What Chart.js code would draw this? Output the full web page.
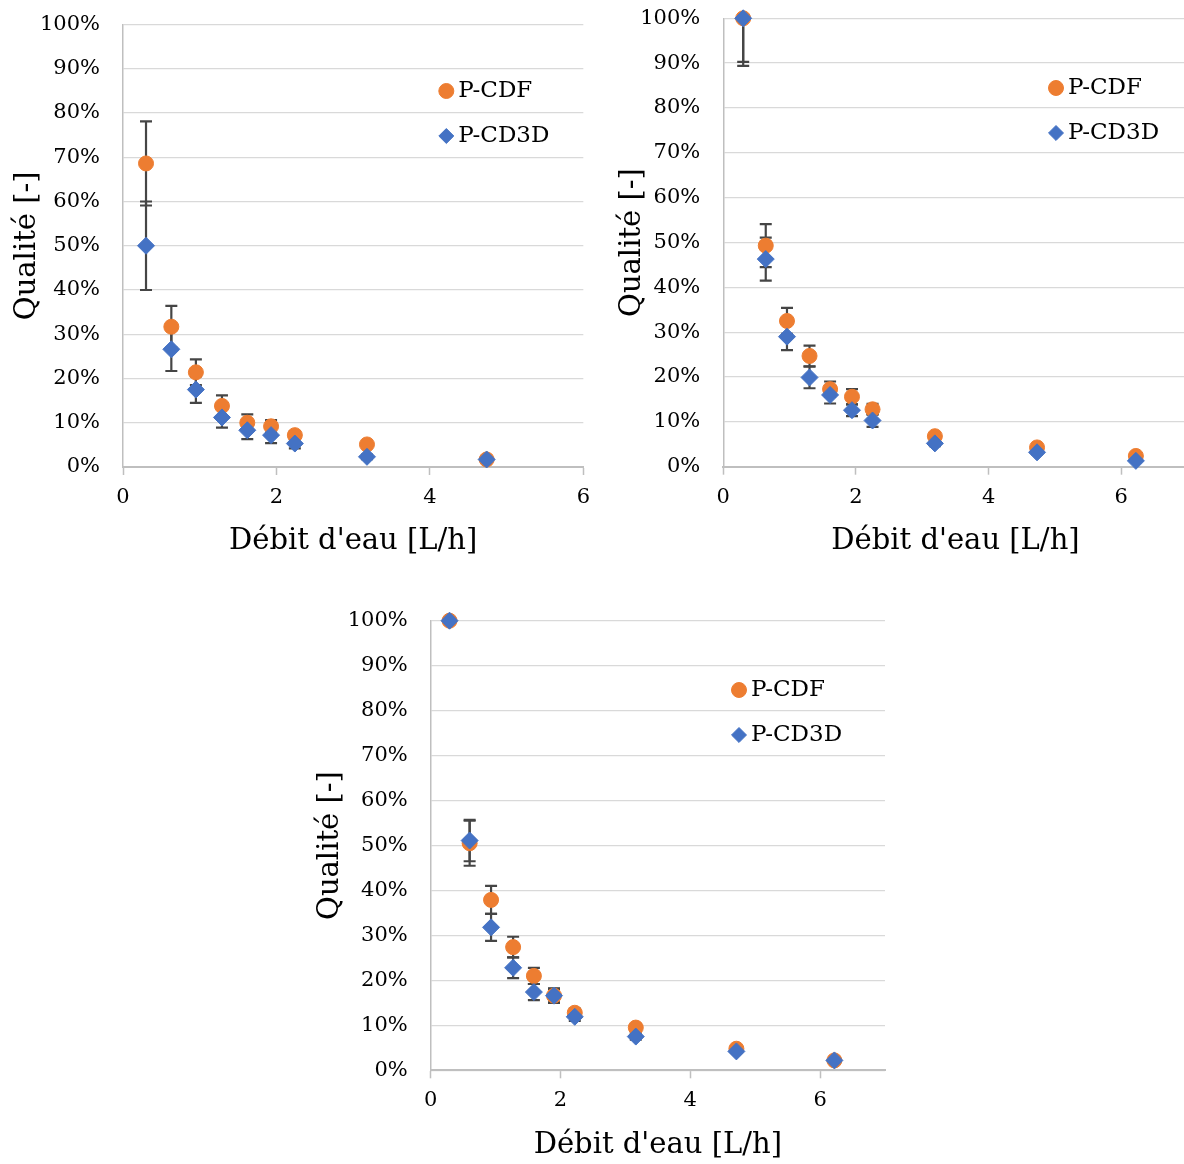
<!DOCTYPE html>
<html>
<head>
<meta charset="utf-8">
<script src="https://cdn.jsdelivr.net/npm/chart.js@4.4.0/dist/chart.umd.min.js"></script>
<style>
    html, body { margin: 0; padding: 0; background: #fff; width: 1184px; height: 1164px; overflow: hidden; }
    body { position: relative; }
    canvas { position: absolute; }
    #c1 { left: 0; top: 0; }
    #c2 { left: 600px; top: 0; }
    #c3 { left: 300px; top: 600px; }
</style>
</head>
<body>
<canvas id="c1" width="600" height="580"></canvas>
<canvas id="c2" width="600" height="580"></canvas>
<canvas id="c3" width="600" height="564"></canvas>
<script>
// graphe 1 (haut gauche)
const debit1 = [0.30, 0.63, 0.95, 1.29, 1.62, 1.93, 2.24, 3.18, 4.74];
const cdf1 = [68.6, 31.7, 21.4, 13.8, 10.0, 9.2, 7.2, 5.1, 1.7];
const cdfErr1 = [9.5, 4.7, 2.9, 2.4, 1.9, 1.4, 0.9, 0.6, 0.3];
const cd3d1 = [50.0, 26.6, 17.5, 11.2, 8.3, 7.2, 5.3, 2.3, 1.7];
const cd3dErr1 = [10.0, 4.9, 3.0, 2.3, 2.0, 1.8, 1.1, 0.5, 0.3];

// graphe 2 (haut droite)
const debit2 = [0.30, 0.64, 0.96, 1.30, 1.61, 1.94, 2.25, 3.19, 4.73, 6.22];
const cdf2 = [100, 49.3, 32.5, 24.7, 17.3, 15.6, 12.8, 6.8, 4.3, 2.4];
const cdfErr2 = [9.7, 4.8, 2.9, 2.3, 1.7, 1.7, 1.2, 0.6, 0.4, 0.3];
const cd3d2 = [100, 46.3, 29.0, 19.9, 16.0, 12.6, 10.3, 5.2, 3.2, 1.3];
const cd3dErr2 = [10.6, 4.8, 3.0, 2.4, 1.9, 1.3, 1.4, 0.6, 0.4, 0.3];

// graphe 3 (bas)
const debit3 = [0.29, 0.60, 0.93, 1.27, 1.59, 1.90, 2.22, 3.16, 4.71, 6.22];
const cdf3 = [100, 50.5, 37.9, 27.4, 21.0, 16.6, 12.8, 9.5, 4.8, 2.2];
const cdfErr3 = [0, 5.0, 3.1, 2.3, 1.8, 1.6, 0.9, 0.7, 0.3, 0.2];
const cd3d3 = [100, 51.1, 31.8, 22.8, 17.4, 16.6, 11.9, 7.5, 4.2, 2.2];
const cd3dErr3 = [0, 4.6, 3.0, 2.3, 1.8, 1.5, 0.9, 0.7, 0.3, 0.2];

const seriesNames = ["P-CDF", "P-CD3D"];
const xTitle = "Débit d'eau [L/h]";
const yTitle = "Qualité [-]";

const ORANGE = "#ED7D31";
const BLUE = "#4472C4";
const FONT = "'DejaVu Serif', 'Liberation Serif', serif";

// barres d'erreur (dessinées sous les points)
const errorBars = {
    id: "errorBars",
    beforeDatasetsDraw(chart) {
        const { ctx, chartArea: a, scales: { x, y } } = chart;
        ctx.save();
        ctx.beginPath();
        ctx.rect(a.left, a.top, a.width, a.height);
        ctx.clip();
        ctx.strokeStyle = "#454545";
        ctx.lineWidth = 2.2;
        chart.data.datasets.forEach(ds => {
            ds.data.forEach((p, i) => {
                const e = ds.errors[i];
                if (!e) return;
                const px = x.getPixelForValue(p.x);
                const top = y.getPixelForValue(p.y + e);
                const bot = y.getPixelForValue(p.y - e);
                ctx.beginPath();
                ctx.moveTo(px, top); ctx.lineTo(px, bot);
                ctx.moveTo(px - 6, top); ctx.lineTo(px + 6, top);
                ctx.moveTo(px - 6, bot); ctx.lineTo(px + 6, bot);
                ctx.stroke();
            });
        });
        ctx.restore();
    }
};

// légende placée dans la zone du graphe, en haut à droite
const legendShift = {
    id: "legendShift",
    afterLayout(chart, args, opts) {
        const lg = chart.legend, a = chart.chartArea;
        const w = lg.width, h = lg.height;
        lg.left = a.right - opts.dx - 21.5;
        lg.right = lg.left + w;
        lg.top = a.top + opts.dy - 22 - 11.5;
        lg.bottom = lg.top + h;
    }
};

function makeChart(id, x, xMax, cdf, cdfErr, cd3d, cd3dErr, L) {
    const tickFont = { family: FONT, size: 21 };
    const titleFont = { family: FONT, size: 29 };
    new Chart(document.getElementById(id), {
        type: "scatter",
        data: {
            datasets: [{
                label: seriesNames[0],
                data: x.map((v, i) => ({ x: v, y: cdf[i] })),
                errors: cdfErr,
                backgroundColor: ORANGE,
                borderColor: ORANGE,
                pointStyle: "circle",
                pointRadius: 7.5,
                borderWidth: 1,
                clip: false,
                order: 1
            }, {
                label: seriesNames[1],
                data: x.map((v, i) => ({ x: v, y: cd3d[i] })),
                errors: cd3dErr,
                backgroundColor: BLUE,
                borderColor: BLUE,
                pointStyle: "rectRot",
                pointRadius: 8.5,
                borderWidth: 1,
                clip: false,
                order: 0
            }]
        },
        options: {
            responsive: false,
            animation: false,
            layout: { padding: { top: L.top, right: L.right, left: 0, bottom: 0 } },
            plugins: {
                tooltip: { enabled: false },
                legend: {
                    position: "chartArea",
                    align: "start",
                    labels: {
                        usePointStyle: true,
                        boxWidth: 1,
                        boxHeight: 10.6,
                        padding: 22,
                        color: "#000",
                        font: { family: FONT, size: 23 },
                        sort: (a, b) => a.datasetIndex - b.datasetIndex
                    }
                },
                legendShift: { dx: L.lx, dy: L.ly }
            },
            scales: {
                x: {
                    type: "linear",
                    min: 0,
                    max: xMax,
                    afterFit: s => { s.height = L.xh; },
                    ticks: { stepSize: 2, includeBounds: false, padding: 10, color: "#000", font: tickFont },
                    grid: { drawOnChartArea: false, tickLength: 8, tickColor: "#bfbfbf", tickWidth: 1.5 },
                    border: { color: "#bfbfbf", width: 2 },
                    title: { display: true, text: xTitle, color: "#000", font: titleFont, padding: { top: 0, bottom: L.xtp } }
                },
                y: {
                    min: 0,
                    max: 100,
                    afterFit: s => { s.width = L.yw; },
                    ticks: { stepSize: 10, padding: 2, color: "#000", font: tickFont, callback: v => v + "%" },
                    grid: { color: "#d9d9d9", lineWidth: 1.3, drawTicks: true, tickLength: 21, tickColor: "rgba(0,0,0,0)" },
                    border: { color: "#bfbfbf", width: 1.5 },
                    title: { display: true, text: yTitle, color: "#000", font: titleFont, padding: { top: L.ytp, bottom: 0 } }
                }
            }
        },
        plugins: [errorBars, legendShift]
    });
}

makeChart("c1", debit1, 6, cdf1, cdfErr1, cd3d1, cd3dErr1,
    { top: 24.5, right: 16, yw: 123, xh: 113, xtp: 21.6, ytp: 9.6, lx: 138, ly: 66.5 });
makeChart("c2", debit2, 7, cdf2, cdfErr2, cd3d2, cd3dErr2,
    { top: 18.3, right: 12.4, yw: 123.3, xh: 113.3, xtp: 21.6, ytp: 14.6, lx: 132.6, ly: 69.7 });
makeChart("c3", debit3, 7, cdf3, cdfErr3, cd3d3, cd3dErr3,
    { top: 20.7, right: 15, yw: 130.7, xh: 93.7, xtp: 1.6, ytp: 12.6, lx: 147, ly: 69.3 });
</script>
</body>
</html>
